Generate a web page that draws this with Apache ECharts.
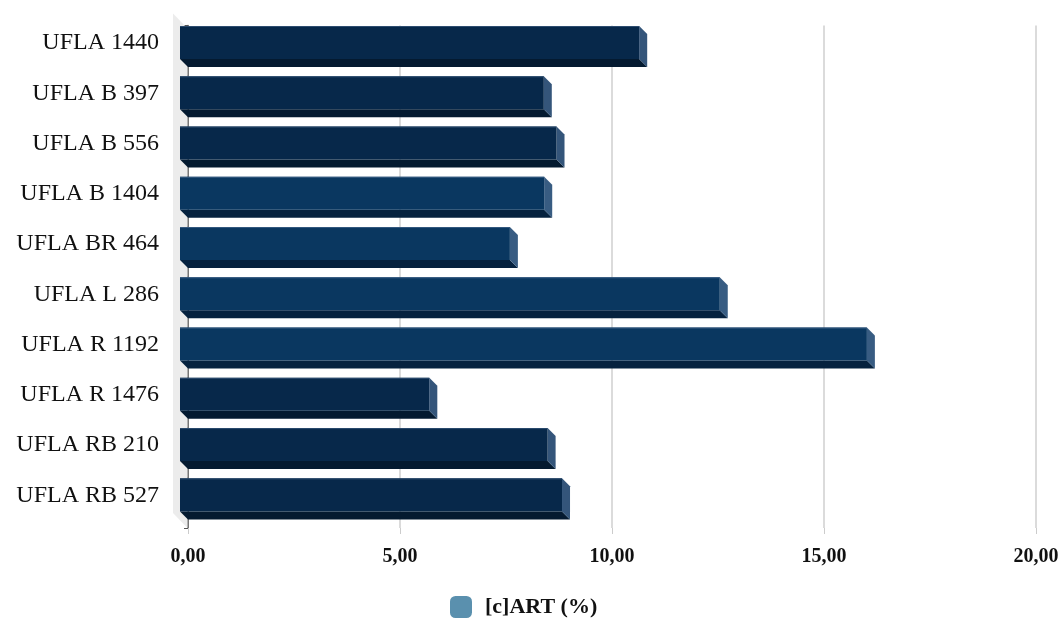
<!DOCTYPE html>
<html>
<head>
<meta charset="utf-8">
<script src="https://cdn.jsdelivr.net/npm/echarts@6/dist/echarts.min.js"></script>
<style>html,body{margin:0;padding:0;background:#fff;}#chart{width:1062px;height:618px;}</style>
</head>
<body>
<div id="chart"></div>
<script>
const categories = ['UFLA 1440','UFLA B 397','UFLA B 556','UFLA B 1404','UFLA BR 464','UFLA L 286','UFLA R 1192','UFLA R 1476','UFLA RB 210','UFLA RB 527'];
const artValues = [10.83, 8.58, 8.88, 8.59, 7.78, 12.73, 16.20, 5.88, 8.67, 9.01];
const seriesName = '[c]ART (%)';
const xTicks = { min: 0, max: 20, interval: 5 };

const darkShade = { front: '#07284A', bottom: '#041A30', side: '#34557A', edge: '#2E4E70' };
const lightShade = { front: '#0A3760', bottom: '#06223F', side: '#385C82', edge: '#355A80' };
const shadeFor = [darkShade, darkShade, darkShade, lightShade, lightShade, lightShade, lightShade, darkShade, darkShade, darkShade];

const FONT = "'Liberation Serif', 'Times New Roman', serif";
const DEPTH = 8;

const chart = echarts.init(document.getElementById('chart'), null, { renderer: 'canvas' });

function renderBar(params, api) {
  const idx = api.value(1);
  const val = api.value(0);
  const end = api.coord([val, idx]);
  const base = api.coord([0, idx]);
  const band = api.size([0, 1])[1];
  const h = band * 0.657;
  const cy = end[1];
  const x0 = base[0], x1 = end[0];
  const top = cy - h / 2, bot = cy + h / 2;
  const d = DEPTH;
  const s = shadeFor[idx] || darkShade;
  return {
    type: 'group',
    children: [
      { type: 'polygon', shape: { points: [[x0 - d, bot - d], [x1 - d, bot - d], [x1, bot], [x0, bot]] }, style: { fill: s.bottom } },
      { type: 'polygon', shape: { points: [[x1 - d, top - d], [x1, top], [x1, bot], [x1 - d, bot - d]] }, style: { fill: s.side } },
      { type: 'rect', shape: { x: x0 - d, y: top - d, width: x1 - x0, height: h }, style: { fill: s.front } },
      { type: 'line', shape: { x1: x0 - d, y1: top - d + 0.5, x2: x1 - d, y2: top - d + 0.5 }, style: { stroke: s.edge, lineWidth: 1 } }
    ]
  };
}

function renderWall(params, api) {
  const cs = params.coordSys;
  const w = 15;
  return {
    type: 'polygon',
    shape: { points: [[cs.x - w, cs.y - w + 3], [cs.x - 0.5, cs.y + 3], [cs.x - 0.5, cs.y + cs.height], [cs.x - w, cs.y + cs.height - w]] },
    style: { fill: '#ECECEC' }
  };
}

chart.setOption({
  animation: false,
  backgroundColor: '#ffffff',
  grid: { left: 188, right: 26, top: 25.4, height: 502.6, containLabel: false },
  legend: {
    top: 596,
    left: 450,
    padding: 0,
    data: [{ name: seriesName, icon: 'roundRect' }],
    itemWidth: 22,
    itemHeight: 22,
    itemGap: 10,
    itemStyle: { color: '#5A90AE' },
    textStyle: { fontFamily: FONT, fontSize: 22, fontWeight: 'bold', color: '#111', padding: [0, 0, 0, 8] }
  },
  xAxis: {
    type: 'value',
    min: xTicks.min, max: xTicks.max, interval: xTicks.interval,
    axisLine: { show: false },
    axisTick: { show: true, length: 6, lineStyle: { color: '#cccccc' } },
    splitLine: { show: true, lineStyle: { color: '#cfcfcf', width: 1.5 } },
    axisLabel: {
      margin: 19,
      fontFamily: FONT, fontSize: 20, fontWeight: 'bold', color: '#111',
      formatter: v => v.toFixed(2).replace('.', ',')
    }
  },
  yAxis: {
    type: 'category',
    data: categories,
    inverse: true,
    axisLine: { show: true, lineStyle: { color: '#555555', width: 1.5 } },
    axisTick: { show: true, length: 4, inside: false, lineStyle: { color: '#555555' } },
    axisLabel: { margin: 29, fontFamily: FONT, fontSize: 24, color: '#111', verticalAlign: 'bottom', lineHeight: 15 }
  },
  series: [
    {
      type: 'custom',
      name: 'wall',
      z: 1,
      silent: true,
      renderItem: renderWall,
      data: [[0, 0]],
      encode: { x: 0, y: 1 }
    },
    {
      type: 'custom',
      name: seriesName,
      z: 3,
      itemStyle: { color: '#5A90AE' },
      renderItem: renderBar,
      data: artValues.map((v, i) => [v, i]),
      encode: { x: 0, y: 1 }
    }
  ]
});
</script>
</body>
</html>
